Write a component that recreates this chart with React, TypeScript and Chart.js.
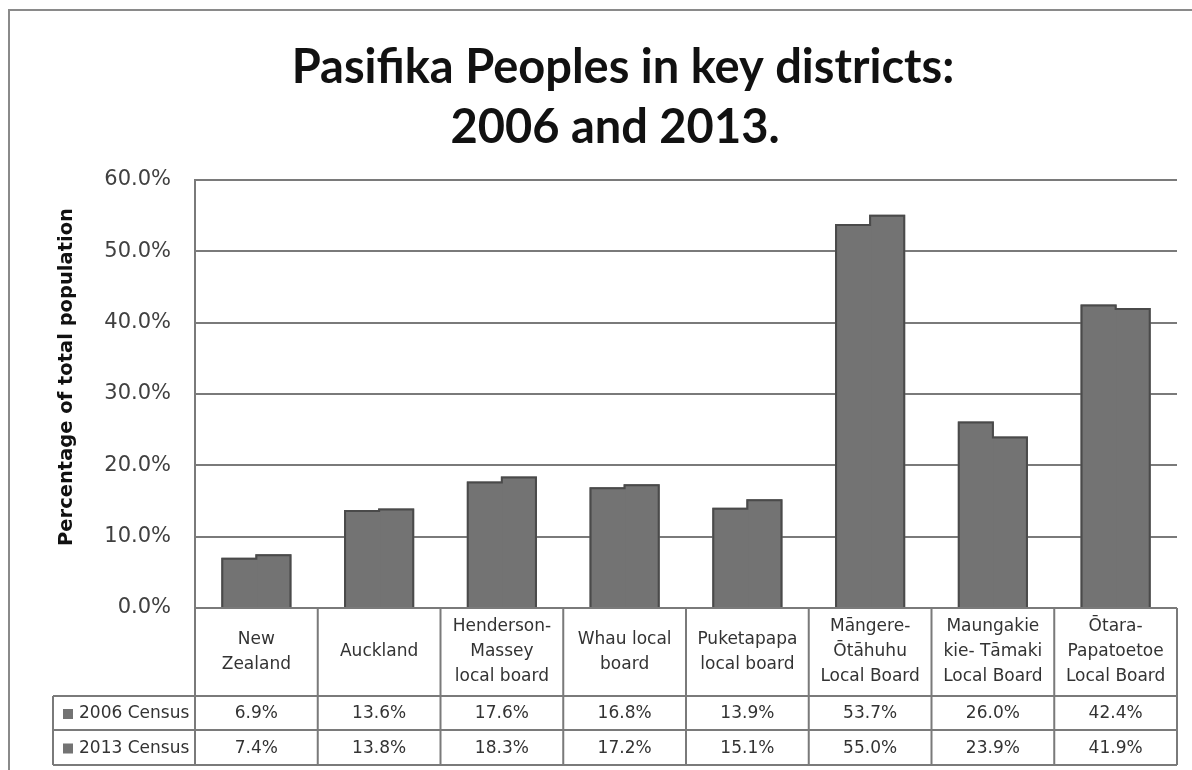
import React, { useEffect, useRef } from "react";
import { Chart, registerables } from "chart.js";

Chart.register(...registerables);

const TITLE_LINES = ["Pasifika Peoples in key districts:", "2006 and 2013."];
const Y_TITLE = "Percentage of total population";
const CATEGORIES: string[][] = [
  ["New", "Zealand"],
  ["Auckland"],
  ["Henderson-", "Massey", "local board"],
  ["Whau local", "board"],
  ["Puketapapa", "local board"],
  ["Māngere-", "Ōtāhuhu", "Local Board"],
  ["Maungakie", "kie- Tāmaki", "Local Board"],
  ["Ōtara-", "Papatoetoe", "Local Board"],
];
const SERIES_NAMES = ["2006 Census", "2013 Census"];
const CENSUS_2006 = [6.9, 13.6, 17.6, 16.8, 13.9, 53.7, 26.0, 42.4];
const CENSUS_2013 = [7.4, 13.8, 18.3, 17.2, 15.1, 55.0, 23.9, 41.9];
const Y_MIN = 0;
const Y_MAX = 60;
const Y_STEP = 10;

const LINE = "#7a7a7a";
const TEXT = "#333333";
const BAR = "#737373";
const BAR_EDGE = "#4a4a4a";
const TABLE_FONT = '17px "DejaVu Sans"';

// outline around each pair of adjoining bars, taken from the bar elements
const pairOutlinePlugin = {
  id: "pairOutline",
  afterDatasetsDraw(chart: any) {
    const ctx = chart.ctx as CanvasRenderingContext2D;
    const m0 = chart.getDatasetMeta(0).data;
    const m1 = chart.getDatasetMeta(1).data;
    ctx.save();
    ctx.strokeStyle = BAR_EDGE;
    ctx.lineWidth = 2;
    ctx.lineJoin = "miter";
    for (let i = 0; i < m0.length; i++) {
      const a = m0[i];
      const b = m1[i];
      const left = a.x - a.width / 2;
      const mid = a.x + a.width / 2;
      const right = b.x + b.width / 2;
      ctx.beginPath();
      ctx.moveTo(left, a.base);
      ctx.lineTo(left, a.y);
      ctx.lineTo(mid, a.y);
      ctx.lineTo(mid, b.y);
      ctx.lineTo(right, b.y);
      ctx.lineTo(right, b.base);
      ctx.stroke();
    }
    ctx.restore();
  },
};

const decorPlugin = {
  id: "decor",
  afterDraw(chart: any) {
    const ctx = chart.ctx as CanvasRenderingContext2D;
    const area = chart.chartArea;
    const xs = chart.scales.x;
    const n = CATEGORIES.length;
    const cw = (area.right - area.left) / n;
    ctx.save();

    // outer frame
    ctx.strokeStyle = "#8a8a8a";
    ctx.lineWidth = 2;
    ctx.beginPath();
    ctx.moveTo(9, 770);
    ctx.lineTo(9, 10);
    ctx.lineTo(1192, 10);
    ctx.stroke();

    // chart title
    ctx.fillStyle = "#111";
    ctx.font = "bold 47px Lato";
    ctx.textAlign = "center";
    ctx.textBaseline = "alphabetic";
    ctx.fillText(TITLE_LINES[0], 623, 83);
    ctx.fillText(TITLE_LINES[1], 615, 143);

    // y title
    ctx.save();
    ctx.translate(67, 377);
    ctx.rotate(-Math.PI / 2);
    ctx.font = 'bold 19.5px "DejaVu Sans"';
    ctx.fillStyle = "#111";
    ctx.textAlign = "center";
    ctx.textBaseline = "middle";
    ctx.fillText(Y_TITLE, 0, 0);
    ctx.restore();

    // data table
    const catTop = area.bottom;
    const catBottom = 696;
    const r1 = 730;
    const r2 = 765;
    const tableLeft = 53;
    ctx.strokeStyle = LINE;
    ctx.lineWidth = 2;
    ctx.beginPath();
    ctx.moveTo(area.left, catTop);
    ctx.lineTo(area.right, catTop);
    for (const y of [catBottom, r1, r2]) {
      ctx.moveTo(tableLeft, y);
      ctx.lineTo(area.right, y);
    }
    ctx.moveTo(tableLeft, catBottom);
    ctx.lineTo(tableLeft, r2);
    ctx.moveTo(area.left, area.top);
    ctx.lineTo(area.left, r2);
    for (let i = 0; i < n; i++) {
      const xr = xs.getPixelForValue(i) + cw / 2;
      ctx.moveTo(xr, catTop);
      ctx.lineTo(xr, r2);
    }
    ctx.stroke();

    ctx.fillStyle = TEXT;
    ctx.font = TABLE_FONT;
    ctx.textAlign = "center";
    ctx.textBaseline = "middle";
    const lh = 25;
    const catMid = (catTop + catBottom) / 2;
    CATEGORIES.forEach((lines, i) => {
      const cx = xs.getPixelForValue(i);
      const y0 = catMid - ((lines.length - 1) * lh) / 2;
      lines.forEach((ln, j) => ctx.fillText(ln, cx, y0 + j * lh));
    });
    const rows = [CENSUS_2006, CENSUS_2013];
    const rowMids = [(catBottom + r1) / 2, (r1 + r2) / 2];
    rows.forEach((vals, r) => {
      const ym = rowMids[r] + 1;
      ctx.textAlign = "center";
      vals.forEach((v, i) => ctx.fillText(v.toFixed(1) + "%", xs.getPixelForValue(i), ym));
      ctx.fillStyle = BAR;
      ctx.fillRect(63, ym - 5, 10, 10);
      ctx.fillStyle = TEXT;
      ctx.textAlign = "left";
      ctx.fillText(SERIES_NAMES[r], 79, ym);
    });
    ctx.restore();
  },
};

export default function App() {
  const ref = useRef<HTMLCanvasElement | null>(null);
  useEffect(() => {
    document.body.style.margin = "0";
    const chart = new Chart(ref.current as HTMLCanvasElement, {
      type: "bar",
      data: {
        labels: CATEGORIES.map((c) => c.join(" ")),
        datasets: [
          {
            label: SERIES_NAMES[0],
            data: CENSUS_2006,
            backgroundColor: BAR,
            borderWidth: 0,
            inflateAmount: 1,
          },
          {
            label: SERIES_NAMES[1],
            data: CENSUS_2013,
            backgroundColor: BAR,
            borderWidth: 0,
            inflateAmount: 1,
          },
        ],
      },
      options: {
        responsive: false,
        animation: false,
        devicePixelRatio: 1,
        layout: { padding: { left: 0, right: 15, top: 180, bottom: 0 } },
        datasets: { bar: { barPercentage: 1, categoryPercentage: 0.555 } },
        plugins: {
          legend: { display: false },
          tooltip: { enabled: false },
          title: { display: false },
        },
        scales: {
          x: {
            grid: { display: false },
            border: { display: false },
            ticks: { display: false },
            afterFit: (s: any) => {
              s.height = 162;
            },
          },
          y: {
            min: Y_MIN,
            max: Y_MAX,
            ticks: {
              stepSize: Y_STEP,
              padding: 24,
              color: "#404040",
              font: { family: "DejaVu Sans", size: 21 },
              callback: (v: any) => Number(v).toFixed(1) + "%",
            },
            grid: { color: LINE, lineWidth: 2, drawTicks: false },
            border: { display: true, color: LINE, width: 2 },
            afterFit: (s: any) => {
              s.width = 195;
            },
          },
        },
      },
      plugins: [pairOutlinePlugin, decorPlugin],
    });
    return () => chart.destroy();
  }, []);
  return (
    <div style={{ position: "fixed", left: 0, top: 0, width: 1192, height: 770, background: "#fff" }}>
      <canvas ref={ref} width={1192} height={770} />
    </div>
  );
}
